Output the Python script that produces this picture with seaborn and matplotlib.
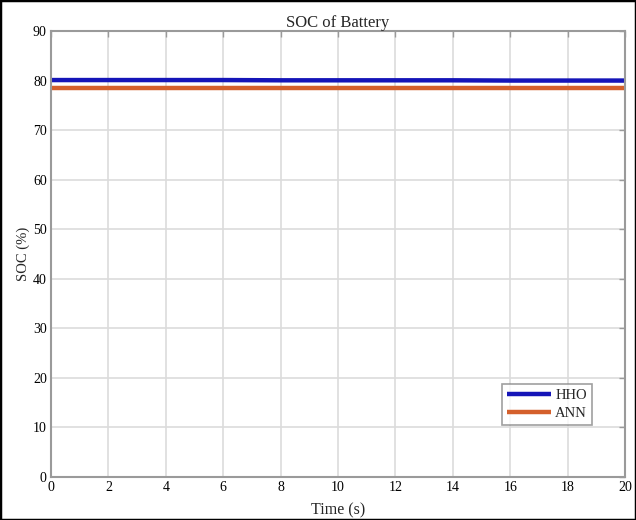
import numpy as np
import pandas as pd
import seaborn as sns
import matplotlib.pyplot as plt
from matplotlib.patches import Rectangle

# data
time_s = [0, 2, 4, 6, 8, 10, 12, 14, 16, 18, 20]
soc_hho = [80.1, 80.1, 80.1, 80.1, 80.05, 80.05, 80.05, 80.05, 80.0, 80.0, 80.0]
soc_ann = [78.4, 78.4, 78.4, 78.4, 78.4, 78.4, 78.4, 78.4, 78.4, 78.4, 78.4]
x_ticks = list(range(0, 21, 2))
y_ticks = list(range(0, 91, 10))

df = pd.DataFrame({
    "Time": time_s * 2,
    "SOC": soc_hho + soc_ann,
    "Method": ["HHO"] * len(time_s) + ["ANN"] * len(time_s),
})

sns.set_theme(style="whitegrid")
plt.rcParams['font.family'] = ['Liberation Serif', 'DejaVu Serif']

fig = plt.figure(figsize=(6.36, 5.2), dpi=100)
ax = fig.add_axes([51 / 636, 1 - 477 / 520, 574 / 636, 446 / 520])

sns.lineplot(data=df, x="Time", y="SOC", hue="Method",
             palette={"HHO": "#1515b8", "ANN": "#d4602c"},
             linewidth=3.2, ax=ax)

ax.set_xlim(0, 20)
ax.set_ylim(0, 90)
ax.set_xticks(x_ticks)
ax.set_yticks(y_ticks)
ax.grid(True, color="#dcdcdc", linewidth=1.2)
for s in ax.spines.values():
    s.set_visible(True)
    s.set_color("#9a9a9a")
    s.set_linewidth(1.5)
ax.tick_params(axis="both", which="both", direction="in", length=4, width=1,
               color="#9a9a9a", labelsize=10, labelcolor="black",
               top=True, right=True, pad=3)
ax.set_title("SOC of Battery", fontsize=12, pad=3)
ax.set_xlabel("Time (s)", fontsize=11.5, labelpad=6)
ax.set_ylabel("SOC (%)", fontsize=10.5, labelpad=2)

leg = ax.legend(loc="lower right", bbox_to_anchor=(0.943, 0.117), fontsize=10.5,
                frameon=True, fancybox=False, handlelength=3.0,
                borderpad=0.35, labelspacing=0.3, handletextpad=0.3,
                borderaxespad=0)
leg.get_frame().set_edgecolor("#888888")
leg.get_frame().set_linewidth(1.2)
for line in leg.get_lines():
    line.set_linewidth(3.2)
    line.set_solid_capstyle("butt")

fig.patches.append(Rectangle((0, 0), 1, 1, transform=fig.transFigure,
                             fill=False, edgecolor="black", linewidth=2.5))

fig.savefig("out.png", dpi=100)
